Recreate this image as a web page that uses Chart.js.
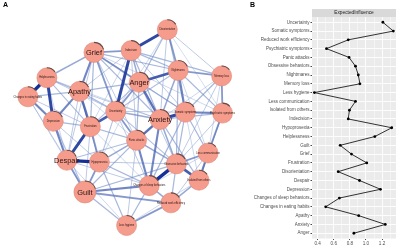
<!DOCTYPE html>
<html>
<head>
<meta charset="utf-8">
<script src="https://cdn.jsdelivr.net/npm/chart.js@4"></script>
<style>
  body { margin: 0; background: #fff; }
  #wrap { position: relative; width: 400px; height: 248px; overflow: hidden; }
  .box { position: absolute; top: 0; }
  .tag { position: absolute; font: bold 7px "Liberation Sans", Arial, sans-serif; color: #000; }
</style>
</head>
<body>
<div id="wrap">
  <div class="box" style="left:0;width:245px;height:248px"><canvas id="net"></canvas></div>
  <div class="box" style="left:245px;width:155px;height:248px"><canvas id="dot"></canvas></div>
  <div class="tag" style="left:3px;top:1px">A</div>
  <div class="tag" style="left:250px;top:1px">B</div>
</div>
<script>
// panel B data
const categories = ["Uncertainty", "Somatic symptoms", "Reduced work efficiency", "Psychiatric symptoms",
  "Panic attacks", "Obsessive behaviors", "Nightmares", "Memory loss", "Less hygiene",
  "Less communication", "Isolated from others", "Indecision", "Hypoprosexia", "Helplessness",
  "Guilt", "Grief", "Frustration", "Disorientation", "Despair", "Depression",
  "Changes of sleep behaviors", "Changes in eating habits", "Apathy", "Anxiety", "Anger"];
const influence = [1.21, 1.34, 0.78, 0.51, 0.79, 0.87, 0.905, 0.925, 0.36, 0.87, 0.795, 0.78,
  1.32, 1.11, 0.68, 0.82, 1.01, 0.655, 0.92, 1.18, 0.67, 0.50, 0.91, 1.24, 0.85];
const xTickLabels = [0.4, 0.6, 0.8, 1.0, 1.2];
const stripTitle = "ExpectedInfluence";

// panel A data (network layout + edges)
const nodeNames = ["Disorientation", "Grief", "Indecision", "Nightmares", "Memory loss", "Anger",
  "Helplessness", "Changes in eating habits", "Apathy", "Uncertainty", "Anxiety", "Somatic symptoms",
  "Psychiatric symptoms", "Depression", "Frustration", "Panic attacks", "Despair", "Hypoprosexia",
  "Obsessive behaviors", "Less communication", "Isolated from others", "Guilt",
  "Changes of sleep behaviors", "Reduced work efficiency", "Less hygiene"];
const nodeX = [172, 91, 132, 184, 232, 141, 39, 18, 75, 115, 164, 192, 233, 46, 87, 138, 61, 97, 182, 217, 207, 81, 152, 176, 127];
const nodeY = [20, 45, 43, 65, 71, 78, 73, 94, 88, 110, 119, 111, 112, 121, 127, 142, 164, 166, 168, 156, 186, 199, 192, 211, 236];
const predictability = [0.16, 0.2, 0.15, 0.18, 0.14, 0.2, 0.15, 0.14, 0.18, 0.17, 0.2, 0.16, 0.13,
  0.18, 0.17, 0.15, 0.19, 0.16, 0.17, 0.14, 0.15, 0.2, 0.17, 0.16, 0.14];
const edges = [
  [6, 7, 1.0], [0, 2, 0.9], [2, 9, 0.9], [3, 5, 0.8], [6, 13, 0.9], [9, 14, 0.8], [16, 17, 1.0],
  [14, 16, 0.9], [22, 18, 1.0], [18, 20, 0.8], [10, 11, 0.9], [5, 10, 0.7], [10, 15, 0.7],
  [10, 22, 0.6], [1, 2, 0.5], [8, 13, 0.6], [8, 14, 0.7], [21, 22, 0.6], [21, 23, 0.5],
  [23, 24, 0.5], [16, 21, 0.5], [17, 21, 0.5], [11, 12, 0.6], [3, 11, 0.6], [3, 4, 0.5],
  [19, 20, 0.6], [18, 19, 0.5], [15, 22, 0.6], [5, 9, 0.5], [1, 8, 0.6], [1, 9, 0.5],
  [1, 5, 0.5], [9, 10, 0.4], [0, 3, 0.5], [4, 12, 0.5], [12, 19, 0.5], [7, 13, 0.6],
  [13, 16, 0.6], [14, 17, 0.5], [15, 17, 0.4], [9, 15, 0.5], [2, 5, 0.4],
  [1, 6, 0.4], [1, 3, 0.3], [1, 10, 0.3], [1, 11, 0.2], [1, 14, 0.3], [1, 15, 0.2], [1, 16, 0.2],
  [2, 3, 0.3], [2, 10, 0.3], [2, 11, 0.2], [2, 15, 0.2], [2, 4, 0.3], [0, 5, 0.3], [0, 10, 0.2],
  [0, 11, 0.25], [0, 4, 0.2], [3, 10, 0.4], [3, 12, 0.3], [3, 18, 0.3], [4, 11, 0.3], [4, 18, 0.2],
  [5, 8, 0.3], [5, 14, 0.25], [5, 15, 0.3], [5, 11, 0.3], [5, 18, 0.2], [6, 8, 0.3], [6, 9, 0.2],
  [6, 14, 0.25], [7, 8, 0.3], [7, 16, 0.2], [8, 9, 0.3], [8, 17, 0.25], [8, 10, 0.2], [9, 17, 0.25],
  [9, 11, 0.2], [9, 22, 0.2], [9, 18, 0.25], [10, 18, 0.4], [10, 12, 0.3], [10, 20, 0.3],
  [11, 18, 0.3], [11, 19, 0.3], [12, 20, 0.3], [13, 14, 0.3], [13, 21, 0.25], [14, 15, 0.3],
  [14, 21, 0.2], [15, 18, 0.4], [15, 16, 0.25], [15, 21, 0.3], [16, 22, 0.2], [17, 22, 0.3],
  [17, 24, 0.3], [21, 24, 0.3], [22, 23, 0.4], [22, 24, 0.3], [23, 20, 0.4], [18, 23, 0.3],
  [19, 23, 0.2], [21, 18, 0.3], [15, 24, 0.2], [11, 22, 0.3], [3, 9, 0.25], [1, 12, 0.15],
  [6, 10, 0.15], [7, 14, 0.2], [0, 9, 0.15], [0, 12, 0.12], [2, 8, 0.2], [2, 14, 0.15],
  [4, 10, 0.15], [4, 19, 0.15], [6, 16, 0.15], [7, 21, 0.12], [8, 16, 0.2], [8, 15, 0.15],
  [12, 18, 0.2], [13, 17, 0.2], [14, 22, 0.15], [16, 24, 0.15], [17, 18, 0.2], [19, 22, 0.15],
  [20, 24, 0.15], [3, 19, 0.15], [5, 17, 0.12], [11, 20, 0.15]
];

const FONT = '"Liberation Sans", Arial, sans-serif';
const bigNodes = ["Grief", "Anger", "Apathy", "Anxiety", "Despair", "Guilt"];

function edgeColor(w) {
  const r = Math.round(165 - 145 * w), g = Math.round(188 - 140 * w), b = Math.round(222 - 70 * w);
  return `rgba(${r},${g},${b},${0.5 + 0.5 * w})`;
}

const edgeSets = edges.map(([a, b, w]) => ({
  data: [{ x: nodeX[a], y: nodeY[a] }, { x: nodeX[b], y: nodeY[b] }],
  showLine: true,
  borderColor: edgeColor(w),
  borderWidth: 0.35 + w * 2.9,
  pointRadius: 0,
  order: 2 - w
}));

const nodeSet = {
  data: nodeNames.map((n, i) => ({ x: nodeX[i], y: nodeY[i] })),
  pointRadius: nodeNames.map(n => n === "Guilt" ? 11 : 10),
  backgroundColor: "#F59C8C",
  borderColor: "#DE8575",
  borderWidth: 0.6,
  order: 0
};

const nodeLabels = {
  id: "nodeLabels",
  afterDatasetsDraw(chart) {
    const ctx = chart.ctx, xs = chart.scales.x, ys = chart.scales.y;
    ctx.save();
    nodeNames.forEach((name, i) => {
      const px = xs.getPixelForValue(nodeX[i]);
      const py = ys.getPixelForValue(nodeY[i]);
      const r = name === "Guilt" ? 11 : 10;
      ctx.beginPath();
      ctx.arc(px, py, r, -Math.PI / 2, -Math.PI / 2 + predictability[i] * 2 * Math.PI);
      ctx.strokeStyle = "#6a4a44";
      ctx.lineWidth = 1.1;
      ctx.stroke();
      const big = bigNodes.includes(name);
      ctx.fillStyle = "#2a1410";
      ctx.textAlign = "center";
      ctx.textBaseline = "middle";
      ctx.font = (big ? "7.4px " : "2.6px ") + FONT;
      ctx.fillText(name, px, py + (big ? 0.5 : 0));
    });
    ctx.restore();
  }
};

new Chart(document.getElementById("net"), {
  type: "scatter",
  data: { datasets: [nodeSet, ...edgeSets] },
  options: {
    responsive: true,
    maintainAspectRatio: false,
    animation: false,
    events: [],
    clip: false,
    layout: { padding: 0 },
    scales: {
      x: { type: "linear", min: 0, max: 245, display: false },
      y: { type: "linear", min: 0, max: 248, reverse: true, display: false }
    },
    plugins: { legend: { display: false }, tooltip: { enabled: false } }
  },
  plugins: [nodeLabels]
});

const isMajor = v => Math.round(v * 10) % 2 === 0;

const panelBg = {
  id: "panelBg",
  beforeDraw(chart) {
    const { ctx, chartArea: a } = chart;
    ctx.save();
    ctx.fillStyle = "#EBEBEB";
    ctx.fillRect(a.left, a.top, a.right - a.left, a.bottom - a.top);
    ctx.fillStyle = "#D9D9D9";
    ctx.fillRect(a.left, 9, a.right - a.left, a.top - 9);
    ctx.fillStyle = "#1A1A1A";
    ctx.font = "4.8px " + FONT;
    ctx.textAlign = "center";
    ctx.textBaseline = "middle";
    ctx.fillText(stripTitle, (a.left + a.right) / 2, (9 + a.top) / 2);
    ctx.restore();
  }
};

new Chart(document.getElementById("dot"), {
  type: "scatter",
  data: {
    datasets: [{
      data: influence.map((v, i) => ({ x: v, y: i })),
      showLine: true,
      borderColor: "#333333",
      borderWidth: 1,
      pointRadius: 1.4,
      pointBackgroundColor: "#000",
      pointBorderWidth: 0
    }]
  },
  options: {
    responsive: true,
    maintainAspectRatio: false,
    animation: false,
    events: [],
    layout: { padding: { top: 17, right: 2, left: 0, bottom: 0 } },
    scales: {
      x: {
        type: "linear", min: 0.33, max: 1.373,
        border: { display: false },
        grid: {
          color: "#fff",
          lineWidth: c => (c.tick && isMajor(c.tick.value)) ? 0.9 : 0.45,
          tickColor: c => (c.tick && isMajor(c.tick.value)) ? "#333" : "rgba(0,0,0,0)",
          tickLength: 1.5
        },
        ticks: {
          stepSize: 0.1, includeBounds: false, autoSkip: false, maxRotation: 0, padding: 0.5,
          color: "#4D4D4D", font: { size: 4.6, family: FONT },
          callback: v => xTickLabels.some(t => Math.abs(t - v) < 1e-6) ? v.toFixed(1) : ""
        },
        afterFit: s => { s.height = 9.5; }
      },
      y: {
        type: "linear", reverse: true, min: -0.6, max: 24.6,
        border: { display: false },
        grid: { color: "#fff", lineWidth: 0.9, tickColor: "#333", tickLength: 1.5 },
        ticks: {
          stepSize: 1, includeBounds: false, autoSkip: false, padding: 1,
          color: "#4D4D4D", font: { size: 4.5, family: FONT },
          callback: v => categories[v] ?? ""
        },
        afterFit: s => { s.width = 67; }
      }
    },
    plugins: { legend: { display: false }, tooltip: { enabled: false } }
  },
  plugins: [panelBg]
});
</script>
</body>
</html>
